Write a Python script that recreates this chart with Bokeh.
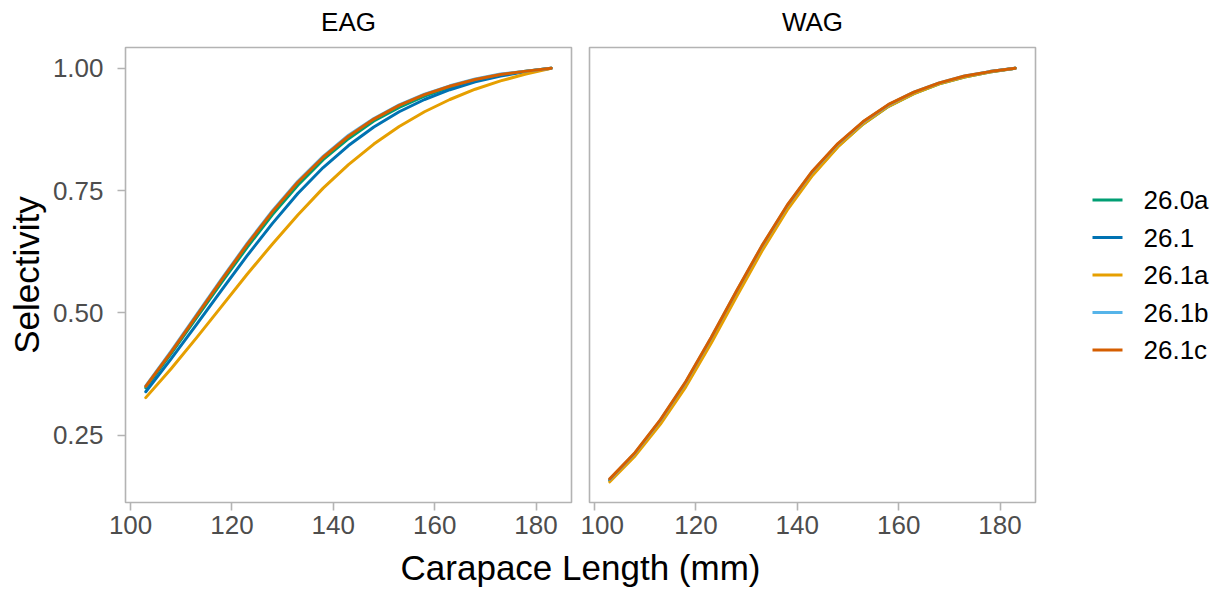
from bokeh.plotting import figure
from bokeh.layouts import row, column
from bokeh.models import Range1d, FixedTicker, NumeralTickFormatter, ColumnDataSource
from bokeh.embed import file_html
from bokeh.resources import INLINE
from bokeh.core.properties import value

# ---- data -------------------------------------------------------------
carapace_length = [103, 108, 113, 118, 123, 128, 133, 138, 143, 148,
                   153, 158, 163, 168, 173, 178, 183]

models = ["26.0a", "26.1", "26.1a", "26.1b", "26.1c"]
model_colors = ["#009E73", "#0072B2", "#E69F00", "#56B4E9", "#D55E00"]

regions = ["EAG", "WAG"]

eag_26_0a = [0.347, 0.417, 0.490, 0.563, 0.634, 0.701, 0.761, 0.813, 0.856,
             0.892, 0.920, 0.943, 0.961, 0.975, 0.986, 0.994, 1.000]
eag_26_1 = [0.339, 0.406, 0.476, 0.547, 0.617, 0.683, 0.744, 0.797, 0.842,
            0.880, 0.911, 0.936, 0.956, 0.972, 0.984, 0.993, 1.000]
eag_26_1a = [0.327, 0.386, 0.449, 0.514, 0.579, 0.641, 0.700, 0.755, 0.803,
             0.845, 0.881, 0.911, 0.936, 0.957, 0.974, 0.988, 1.000]
eag_26_1b = [0.351, 0.422, 0.496, 0.570, 0.642, 0.709, 0.769, 0.820, 0.863,
             0.897, 0.925, 0.947, 0.964, 0.978, 0.988, 0.994, 1.000]
eag_26_1c = [0.350, 0.420, 0.494, 0.568, 0.640, 0.707, 0.767, 0.818, 0.861,
             0.896, 0.924, 0.946, 0.963, 0.977, 0.987, 0.994, 1.000]

wag_26_0a = [0.158, 0.211, 0.277, 0.354, 0.443, 0.538, 0.630, 0.713, 0.783,
             0.840, 0.886, 0.922, 0.948, 0.968, 0.982, 0.992, 1.000]
wag_26_1 = [0.159, 0.213, 0.280, 0.357, 0.447, 0.542, 0.634, 0.717, 0.787,
            0.844, 0.890, 0.925, 0.950, 0.969, 0.983, 0.993, 1.000]
wag_26_1a = [0.155, 0.208, 0.273, 0.349, 0.438, 0.533, 0.626, 0.710, 0.781,
             0.839, 0.886, 0.922, 0.948, 0.968, 0.982, 0.992, 1.000]
wag_26_1b = [0.160, 0.214, 0.281, 0.359, 0.449, 0.544, 0.636, 0.719, 0.789,
             0.845, 0.890, 0.925, 0.951, 0.970, 0.984, 0.993, 1.000]
wag_26_1c = [0.161, 0.215, 0.282, 0.360, 0.450, 0.545, 0.637, 0.720, 0.790,
             0.846, 0.891, 0.926, 0.951, 0.970, 0.984, 0.993, 1.000]

selectivity = {
    "EAG": [eag_26_0a, eag_26_1, eag_26_1a, eag_26_1b, eag_26_1c],
    "WAG": [wag_26_0a, wag_26_1, wag_26_1a, wag_26_1b, wag_26_1c],
}

x_ticks = [100, 120, 140, 160, 180]
y_ticks = [0.25, 0.50, 0.75, 1.00]

x_title = "Carapace Length (mm)"
y_title = "Selectivity"

# ---- styling / layout constants --------------------------------------
FONT = "Liberation Sans"
TICK_COLOR = "#4D4D4D"
BORDER_COLOR = "#B3B3B3"
LINE_W = 3.0
STRIP_H = 45          # band holding the facet labels
PAD_TOP = 2
FRAME_H = 455
BOTTOM = 45
FRAME_W = 446
LEFT = 125
GAP = 9
FIG_H = PAD_TOP + FRAME_H + BOTTOM
TOTAL_W = 1222
TITLE_H = 592 - STRIP_H - FIG_H

# shared scales with 5% padding, as in a faceted plot with fixed scales
all_y = [v for reg in regions for s in selectivity[reg] for v in s]
y_pad = 0.05 * (max(all_y) - min(all_y))
x_pad = 0.05 * (max(carapace_length) - min(carapace_length))
x_lo, x_hi = min(carapace_length) - x_pad, max(carapace_length) + x_pad
y_lo, y_hi = min(all_y) - y_pad, max(all_y) + y_pad


def blank_canvas(w, h, top=0, bottom=0):
    """A plain figure whose data coordinates are frame pixels (y pointing down)."""
    c = figure(width=w, height=h, x_range=Range1d(0, w),
               y_range=Range1d(h - top - bottom, 0),
               output_backend="svg", toolbar_location=None,
               x_axis_location=None, y_axis_location=None,
               min_border_left=0, min_border_right=0,
               min_border_top=top, min_border_bottom=bottom)
    c.outline_line_color = None
    c.xgrid.visible = False
    c.ygrid.visible = False
    return c


def make_panel(region, with_y_axis):
    p = figure(
        width=(LEFT if with_y_axis else GAP) + FRAME_W + (GAP if with_y_axis else 10),
        height=FIG_H,
        x_range=Range1d(x_lo, x_hi), y_range=Range1d(y_lo, y_hi),
        output_backend="svg", toolbar_location=None,
        y_axis_location="left" if with_y_axis else None,
        min_border_left=LEFT if with_y_axis else GAP,
        min_border_right=GAP if with_y_axis else 10,
        min_border_top=PAD_TOP, min_border_bottom=BOTTOM,
    )
    p.xgrid.visible = False
    p.ygrid.visible = False
    p.outline_line_color = BORDER_COLOR
    p.outline_line_width = 1.6
    p.background_fill_color = "white"
    p.border_fill_color = "white"

    axes = list(p.xaxis) + (list(p.yaxis) if with_y_axis else [])
    for ax in axes:
        ax.axis_line_color = None
        ax.major_tick_line_color = BORDER_COLOR
        ax.major_tick_line_width = 1.6
        ax.major_tick_out = 8
        ax.major_tick_in = 0
        ax.minor_tick_line_color = None
        ax.major_label_text_font = FONT
        ax.major_label_text_font_size = "26px"
        ax.major_label_text_color = TICK_COLOR

    p.xaxis.ticker = FixedTicker(ticks=x_ticks)
    p.xaxis.major_label_standoff = 5
    if with_y_axis:
        p.yaxis.ticker = FixedTicker(ticks=y_ticks)
        p.yaxis.formatter = NumeralTickFormatter(format="0.00")
        p.yaxis.major_label_standoff = 14
        p.yaxis.axis_label = y_title
        p.yaxis.axis_label_text_font = FONT
        p.yaxis.axis_label_text_font_size = "35px"
        p.yaxis.axis_label_text_font_style = "normal"
        p.yaxis.axis_label_text_color = "black"
        p.yaxis.axis_label_standoff = 4

    for name, color, ys in zip(models, model_colors, selectivity[region]):
        src = ColumnDataSource(dict(x=carapace_length, y=ys))
        p.line("x", "y", source=src, line_color=color, line_width=LINE_W,
               line_join="round", line_cap="round")
    return p


p_eag = make_panel("EAG", True)
p_wag = make_panel("WAG", False)

# facet strip labels centred over each panel
strip = blank_canvas(TOTAL_W, STRIP_H)
frame_left = [LEFT, p_eag.width + GAP]
strip.text(x=[fl + FRAME_W / 2 for fl in frame_left], y=[21] * len(regions),
           text=regions, text_font=value(FONT), text_font_size="26px",
           text_color="black", text_baseline="middle", text_align="center")

# legend drawn on its own canvas, sharing the panels' frame height
leg_w = TOTAL_W - p_eag.width - p_wag.width
p_leg = blank_canvas(leg_w, FIG_H, top=PAD_TOP, bottom=BOTTOM)
row_step = 37.5
mid = FRAME_H / 2
leg_y = [mid + (i - (len(models) - 1) / 2) * row_step for i in range(len(models))]
key_x0 = 47
key_len = 30
leg_src = ColumnDataSource(dict(
    x0=[key_x0] * len(models), x1=[key_x0 + key_len] * len(models),
    tx=[key_x0 + key_len + 21] * len(models), y=leg_y,
    label=models, color=model_colors))
p_leg.segment("x0", "y", "x1", "y", source=leg_src, line_color="color",
              line_width=LINE_W)
p_leg.text("tx", "y", text="label", source=leg_src, text_font=value(FONT),
           text_font_size="26px", text_color="black", text_baseline="middle",
           text_align="left")

# shared x-axis title under both panels
p_xt = blank_canvas(TOTAL_W, TITLE_H)
panels_mid = (LEFT + (p_eag.width + GAP + FRAME_W)) / 2
p_xt.text(x=[panels_mid], y=[20], text=[x_title], text_font=value(FONT),
          text_font_size="35px", text_color="black", text_baseline="middle",
          text_align="center")

layout = column(strip, row(p_eag, p_wag, p_leg), p_xt)

with open("out.html", "w") as f:
    f.write(file_html(layout, INLINE))
